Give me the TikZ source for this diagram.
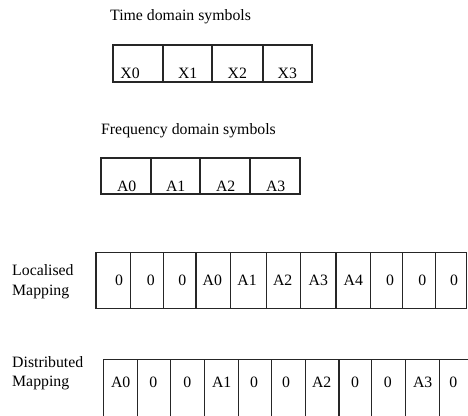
\documentclass[tikz,border=0pt]{standalone}
\usepackage{fontspec}
\setmainfont{Liberation Serif}
\begin{document}
\begin{tikzpicture}[x=1pt,y=-1pt,
  grid/.style={draw=black!85,line width=1.1pt},
  txt/.style={anchor=base,inner sep=0pt,font=\fontsize{15.8}{18}\selectfont},
  lbl/.style={anchor=base west,inner sep=0pt,font=\fontsize{15.8}{18}\selectfont}]
\useasboundingbox (0,0) rectangle (468,415);
\clip (0,0) rectangle (468,415);
% titles
\node[lbl] (ttime) at (110,20.7) {Time domain symbols};
\node[lbl] (tfreq) at (101,134) {Frequency domain symbols};
\node[lbl] (l1) at (12,275.5) {Localised};
\node[lbl] (l2) at (12,295) {Mapping};
\node[lbl] (d1) at (12,367.3) {Distributed};
\node[lbl] (d2) at (12,386) {Mapping};
% time box
\draw[grid] (113,45) rectangle (312,82);
\foreach \x in {163,212,263} \draw[grid] (\x,45) -- (\x,82);
\foreach \t/\x in {X0/130,X1/187.7,X2/237.3,X3/287.3}
  \node[txt] (t\t) at (\x,78) {\t};
% freq box
\draw[grid] (101,158) rectangle (300,194);
\foreach \x in {151,200,250} \draw[grid] (\x,158) -- (\x,194);
\foreach \t/\x in {A0/126.7,A1/175.7,A2/225.7,A3/275.7}
  \node[txt] (f\t) at (\x,191.5) {\t};
% localised
\draw[grid] (96,252.3) rectangle (466.8,308.3);
\foreach \x in {130.7,163.3,196,230.3,266.3,300.7,336,370.7,402.7,435.3}
  \draw[grid] (\x,252.3) -- (\x,308.3);
\foreach \t/\x [count=\i] in {0/119,0/150.7,0/182.3,A0/212.3,A1/247,A2/282.7,A3/318.3,A4/353.3,0/390,0/422.3,0/454}
  \node[txt] (loc\i) at (\x,285.7) {\t};
% distributed
\draw[grid] (103.3,430) -- (103.3,359.3) -- (480,359.3);
\foreach \x in {137.7,170.7,204.3,238.3,271.7,305.7,339,371.7,405.7,439.3,473}
  \draw[grid] (\x,359.3) -- (\x,430);
\foreach \t/\x [count=\i] in {A0/120.7,0/153.3,0/187.3,A1/221.7,0/254,0/286,A2/321.7,0/355,0/387.7,A3/422.7,0/453.3}
  \node[txt] (dis\i) at (\x,387.7) {\t};
\end{tikzpicture}
\end{document}
